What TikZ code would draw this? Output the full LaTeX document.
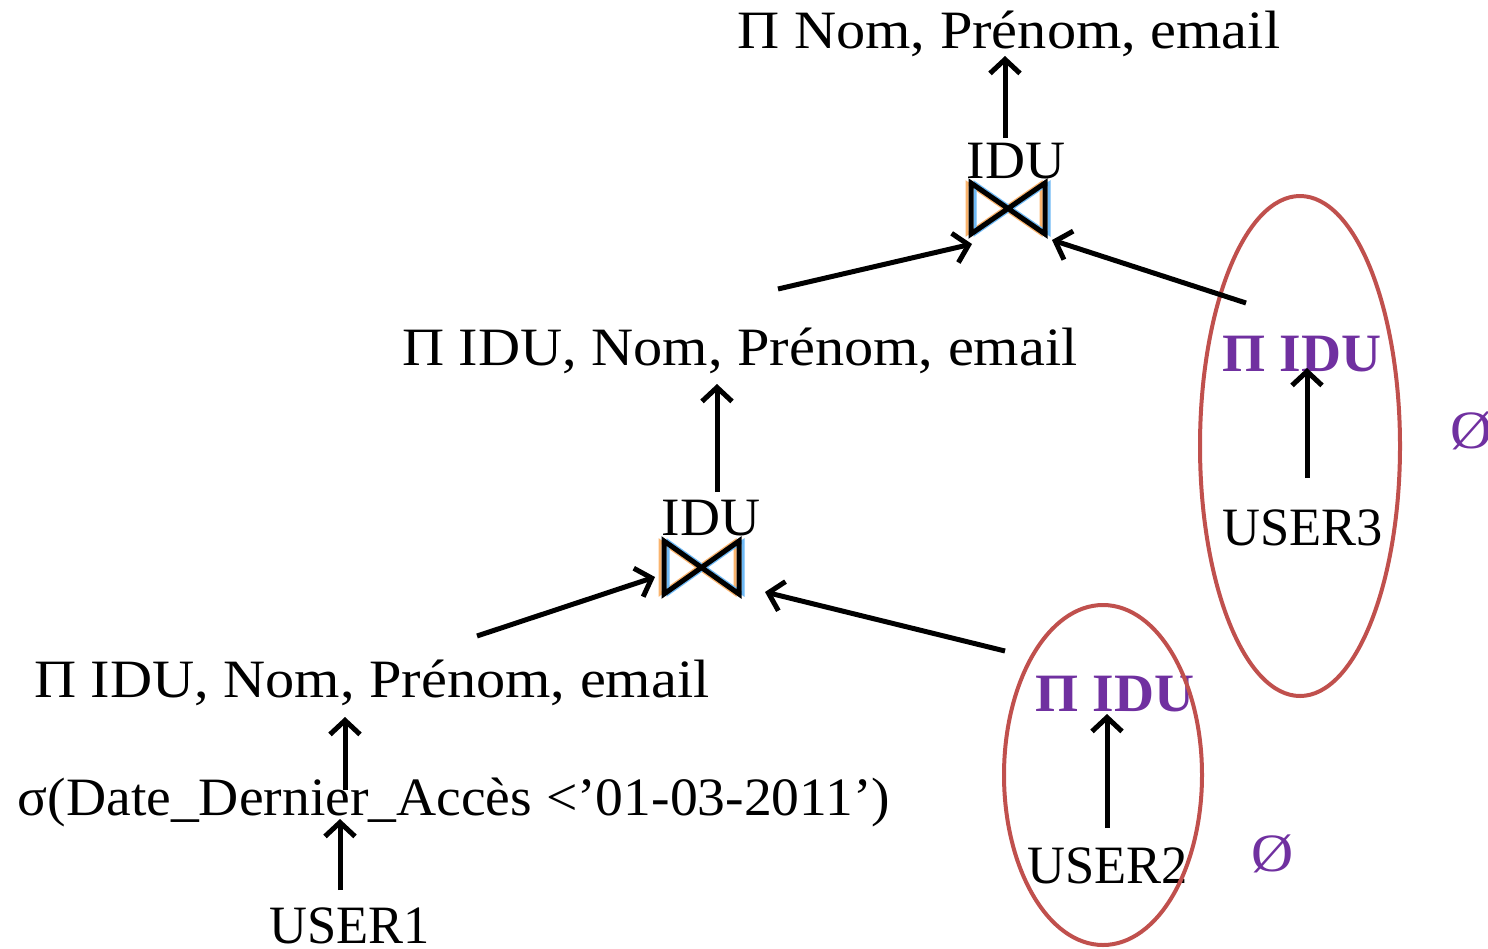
\documentclass[tikz,border=0pt]{standalone}
\usepackage{fontspec}
\setmainfont{Liberation Serif}[FakeStretch=1.08]
\usetikzlibrary{arrows.meta}
\definecolor{ovred}{RGB}{192,80,77}
\definecolor{ovpurple}{RGB}{112,48,160}
\newcommand{\hsq}[2]{\scalebox{#1}[1]{#2}}
\begin{document}
\begin{tikzpicture}[x=1pt,y=-1pt,
  lbl/.style={inner sep=0pt,anchor=base,font=\fontsize{54}{60}\selectfont},
  plbl/.style={lbl,text=ovpurple,font=\fontsize{54}{60}\selectfont\bfseries},
  arr/.style={line width=5pt,-{Straight Barb[length=14pt,width=30pt,line width=5pt]}},
  oval/.style={draw=ovred,line width=4pt}]
\useasboundingbox (0,0) rectangle (1488,948);
% texts
\node[lbl] (top) at (1009,48) {Π Nom, Prénom, email};
\node[lbl] (idu1) at (1016,178) {\hsq{0.95}{IDU}};
\node[lbl] (proj2) at (740,365) {Π IDU, Nom, Prénom, email};
\node[lbl] (idu2) at (711,535) {\hsq{0.95}{IDU}};
\node[lbl] (proj1) at (372,697) {Π IDU, Nom, Prénom, email};
\node[lbl] (sel) at (454,815) {\hsq{0.953}{σ(Date\_Dernier\_Accès <’01-03-2011’)}};
\node[lbl] (u1) at (350,943) {\hsq{0.9}{USER1}};
\node[plbl] (pu2) at (1115,711) {\hsq{0.95}{Π IDU}};
\node[lbl] (u2) at (1108,883) {\hsq{0.9}{USER2}};
\node[plbl] (pu3) at (1302,371) {\hsq{0.95}{Π IDU}};
\node[lbl] (u3) at (1303,545) {\hsq{0.9}{USER3}};
\node[lbl,text=ovpurple] (e2) at (1273,871) {Ø};
\node[lbl,text=ovpurple] (e3) at (1472,448) {Ø};
% ovals
\draw[oval] (1103,775) ellipse [x radius=99, y radius=170];
\draw[oval] (1300,446) ellipse [x radius=100, y radius=250];
% join symbols
\foreach \n/\L/\T/\R/\B in {j1/971/183/1045/234, j2/664/541/739/594}{
  \coordinate (\n) at ({(\L+\R)/2},{(\T+\B)/2});
  \draw[line width=3pt,draw={rgb,255:red,250;green,180;blue,110},xshift=-4pt]
    (\L,\T)--(\R,\B)--(\R,\T)--(\L,\B)--cycle;
  \draw[line width=3pt,draw={rgb,255:red,110;green,185;blue,245},xshift=4pt]
    (\L,\T)--(\R,\B)--(\R,\T)--(\L,\B)--cycle;
  \draw[line width=5pt,line join=miter]
    (\L,\T)--(\R,\B)--(\R,\T)--(\L,\B)--cycle;
}
% arrow endpoints
\coordinate (a1s) at (1005,138); \coordinate (a1e) at (1005,56);
\coordinate (a2s) at (778,289);  \coordinate (a2e) at (972,244);
\coordinate (a3s) at (1246,303); \coordinate (a3e) at (1052,240);
\coordinate (a4s) at (717,492);  \coordinate (a4e) at (717,384);
\coordinate (a5s) at (477,636);  \coordinate (a5e) at (655,577);
\coordinate (a6s) at (1005,651); \coordinate (a6e) at (765,592);
\coordinate (a7s) at (345,790);  \coordinate (a7e) at (345,717);
\coordinate (a8s) at (340,890);  \coordinate (a8e) at (340,819);
\coordinate (a9s) at (1107,828); \coordinate (a9e) at (1107,714);
\coordinate (a10s) at (1307,478); \coordinate (a10e) at (1307,368);
\draw[arr] (a1s) -- (a1e);
\draw[arr] (a2s) -- (a2e);
\draw[arr] (a3s) -- (a3e);
\draw[arr] (a4s) -- (a4e);
\draw[arr] (a5s) -- (a5e);
\draw[arr] (a6s) -- (a6e);
\draw[arr] (a7s) -- (a7e);
\draw[arr] (a8s) -- (a8e);
\draw[arr] (a9s) -- (a9e);
\draw[arr] (a10s) -- (a10e);
\end{tikzpicture}
\end{document}
